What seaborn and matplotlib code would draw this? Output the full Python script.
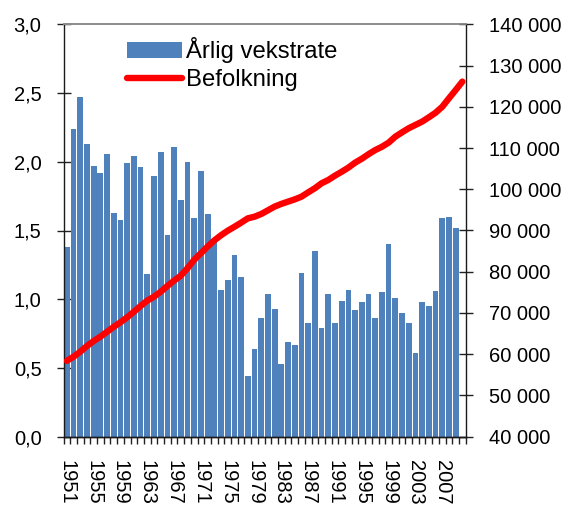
import numpy as np
import pandas as pd
import matplotlib
matplotlib.use("Agg")
import matplotlib.pyplot as plt
import seaborn as sns
from matplotlib.patches import Patch
from matplotlib.lines import Line2D
from matplotlib.ticker import FuncFormatter, FixedLocator

# ---- data ----
years = list(range(1951, 2011))
growth_rate = [1.38, 2.24, 2.47, 2.13, 1.97, 1.92, 2.06, 1.63, 1.58, 1.99,
               2.04, 1.96, 1.18, 1.90, 2.07, 1.47, 2.11, 1.72, 2.00, 1.59,
               1.93, 1.62, 1.42, 1.07, 1.14, 1.32, 1.16, 0.44, 0.64, 0.86,
               1.04, 0.93, 0.53, 0.69, 0.67, 1.19, 0.83, 1.35, 0.79, 1.04,
               0.83, 0.99, 1.07, 0.92, 0.98, 1.04, 0.86, 1.05, 1.40, 1.01,
               0.90, 0.83, 0.61, 0.98, 0.95, 1.06, 1.59, 1.60, 1.52, np.nan]
population = [58400, 59400, 60600, 62000, 63200, 64250, 65450, 66650, 67750, 68950,
              70300, 71700, 73000, 73950, 75150, 76550, 77850, 79050, 80850, 82900,
              84500, 86100, 87600, 88850, 89950, 90900, 91900, 92950, 93350, 94000,
              94900, 95800, 96450, 97000, 97550, 98200, 99250, 100250, 101450, 102250,
              103300, 104250, 105250, 106450, 107400, 108500, 109500, 110300, 111300, 112750,
              113800, 114800, 115600, 116400, 117450, 118550, 120000, 122050, 124050, 126100]
tick_years = [1951, 1955, 1959, 1963, 1967, 1971, 1975, 1979, 1983, 1987,
              1991, 1995, 1999, 2003, 2007]
label_bar = "Årlig vekstrate"
label_line = "Befolkning"

df = pd.DataFrame({"year": [str(y) for y in years], "rate": growth_rate,
                   "pop": population})
df["pos"] = np.arange(len(df))

sns.set_theme(style="white")
plt.rcParams["font.family"] = ["Liberation Sans", "DejaVu Sans"]
plt.rcParams["text.color"] = "black"
plt.rcParams["xtick.color"] = "black"
plt.rcParams["ytick.color"] = "black"

fig = plt.figure(figsize=(5.68, 5.07), dpi=100)
ax = fig.add_axes([63.5 / 568, 1 - 436.7 / 507, (465.7 - 63.5) / 568, (436.7 - 24.3) / 507])

bar_color = "#4F81BD"
sns.barplot(data=df, x="year", y="rate", ax=ax, color=bar_color,
            width=0.86, saturation=1, linewidth=0, order=df["year"].tolist())

ax2 = ax.twinx()
sns.lineplot(data=df, x="pos", y="pop", ax=ax2, color="#FF0000", linewidth=4.6,
             solid_capstyle="round")

ax.set_xlim(-0.5, len(years) - 0.5)
ax.set_ylim(0, 3.0)
ax2.set_ylim(40000, 140000)
ax.set_xlabel("")
ax.set_ylabel("")
ax2.set_xlabel("")
ax2.set_ylabel("")

ax.set_yticks(np.arange(0, 3.01, 0.5))
ax.yaxis.set_major_formatter(FuncFormatter(lambda v, p: f"{v:.1f}".replace(".", ",")))
ax2.set_yticks(np.arange(40000, 140001, 10000))
ax2.yaxis.set_major_formatter(FuncFormatter(lambda v, p: f"{int(v):,}".replace(",", " ")))

tick_pos = [years.index(y) for y in tick_years]
ax.xaxis.set_major_locator(FixedLocator(tick_pos))
ax.set_xticklabels([str(y) for y in tick_years], rotation=-90, va="top", ha="center")
ax.xaxis.set_minor_locator(FixedLocator(np.arange(-0.5, len(years), 1.0)))

fs = 14.5
ax.tick_params(axis="x", which="major", length=0, pad=17, labelsize=fs, labelcolor="black")
ax.tick_params(axis="x", which="minor", length=5, width=1, direction="out",
               color="#222222", bottom=True)
ax.tick_params(axis="y", which="major", length=9.6, width=1, direction="inout",
               pad=11, labelsize=fs, labelcolor="black", color="#222222", left=True)
ax2.tick_params(axis="y", which="major", length=9.6, width=1, direction="inout",
                pad=12, labelsize=fs, labelcolor="black", color="#222222", right=True)

for a in (ax, ax2):
    for s in ("left", "right", "bottom"):
        a.spines[s].set_color("#1a1a1a")
        a.spines[s].set_linewidth(1.0)
    a.spines["top"].set_color("#8c8c8c")
    a.spines["top"].set_linewidth(1.2)
ax2.spines["left"].set_visible(False)
ax.spines["right"].set_visible(False)

handles = [Patch(facecolor=bar_color, edgecolor="none"),
           Line2D([0], [0], color="#FF0000", linewidth=4.6, solid_capstyle="round")]
leg = ax2.legend(handles, [label_bar, label_line], loc="upper left",
                 bbox_to_anchor=(0.157, 0.968), frameon=False, fontsize=17.2,
                 handlelength=2.3, handleheight=0.6, handletextpad=0.18,
                 labelspacing=0.22, borderpad=0, borderaxespad=0)
for t in leg.get_texts():
    t.set_color("black")

fig.savefig("out.png", dpi=100)
